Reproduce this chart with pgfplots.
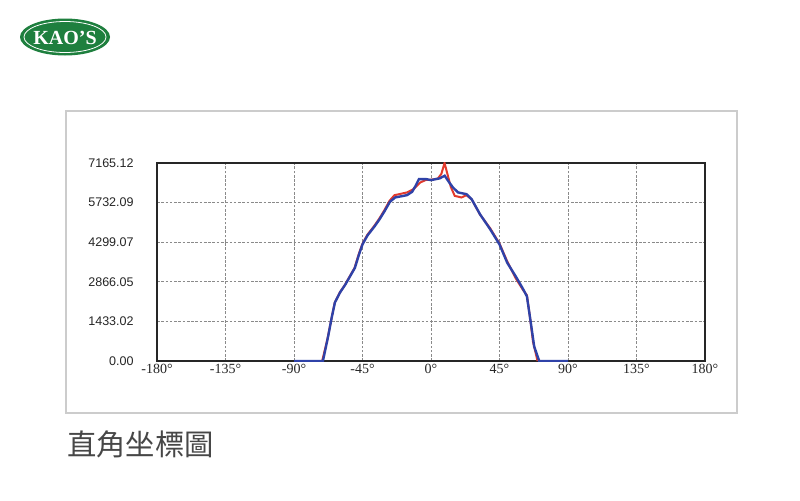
\documentclass[border=0pt]{standalone}
\usepackage{pgfplots}
\pgfplotsset{compat=1.18}
\usepackage{fontspec}
\setmainfont{Liberation Serif}
\newfontfamily\tickfont{Liberation Sans}
\newfontfamily\cjk{Noto Sans CJK TC}
\definecolor{kaogreen}{HTML}{1E7F3E}
\definecolor{curvered}{HTML}{E23A2C}
\definecolor{curveblue}{HTML}{2F42A8}
\definecolor{framegray}{HTML}{CCCCCC}
\definecolor{gridgray}{HTML}{8A8A8A}

\begin{document}
\begin{tikzpicture}
% page frame, logo, caption (1px = 0.75pt, y down)
\begin{scope}[x=0.75pt,y=-0.75pt]
  \path[use as bounding box, fill=white] (0,0) rectangle (800,500);
  \draw[framegray, line width=0.9pt] (66,111) rectangle (737,413);
  \fill[kaogreen] (65,37) ellipse [x radius=45, y radius=18.5];
  \draw[white, line width=0.6pt] (65,37) ellipse [x radius=41, y radius=15.5];
  \node[white, font=\bfseries\fontsize{15}{15}\selectfont, inner sep=0pt] at (65,38) {KAO'S};
  \node[anchor=west, inner sep=0pt, text=black!72, font=\cjk\fontsize{22}{22}\selectfont] at (67,444) {直角坐標圖};
\end{scope}

\begin{axis}[
    at={(117.75pt,-270.75pt)}, anchor=south west,
    scale only axis,
    width=411pt, height=148.5pt,
    xmin=-180, xmax=180,
    ymin=0, ymax=7165.12,
    axis line style={line width=1.6pt, black!85},
    xtick={-180,-135,-90,-45,0,45,90,135,180},
    xticklabels={-180°,-135°,-90°,-45°,0°,45°,90°,135°,180°},
    ytick={0,1433.02,2866.05,4299.07,5732.09,7165.12},
    yticklabels={0.00,1433.02,2866.05,4299.07,5732.09,7165.12},
    major tick length=0pt,
    grid=major,
    major grid style={gridgray, line width=0.6pt, dash pattern=on 2pt off 1.2pt},
    xticklabel style={font=\fontsize{10.5}{10.5}\selectfont, text=black!85, yshift=1pt},
    yticklabel style={font=\tickfont\fontsize{9.4}{9.4}\selectfont, text=black!85, xshift=-14pt},
]

% red curve
\addplot[curvered, line width=1.5pt] coordinates {
    (-71.5,0) (-68,800) (-65.5,1500) (-63.3,2100) (-59.9,2480) (-56.5,2760)
    (-53.1,3090) (-50.2,3370) (-47.5,3860) (-45.2,4220) (-41.9,4560)
    (-37.4,4880) (-34,5150) (-30.6,5460) (-27.2,5800) (-24,6000)
    (-15.8,6100) (-11.5,6220) (-7,6462) (-3.4,6550) (0,6560) (4.5,6600)
    (6.8,6770) (8.9,7165) (11.1,6700) (13,6300) (15.6,5976) (20,5917)
    (23.3,6000) (26.7,5850) (32.2,5300) (38.9,4800) (45,4250) (50.1,3600)
    (55.6,3000) (60.1,2600) (63,2380) (65,1600) (67,700) (70,0)
};

% blue curve
\addplot[curveblue, line width=1.8pt] coordinates {
    (-90,0) (-71,0) (-67.6,885) (-65.3,1552) (-63.1,2122) (-59.7,2485)
    (-56.3,2764) (-52.9,3092) (-50,3370) (-47.3,3855) (-45,4219)
    (-41.7,4546) (-37.2,4862) (-33.8,5128) (-30.4,5431) (-27,5759)
    (-23.6,5917) (-15.8,6001) (-12.4,6122) (-10.1,6341) (-7.9,6583)
    (-3.4,6583) (0,6547) (5.6,6607) (9,6704) (11.5,6500) (14.4,6280)
    (17.8,6100) (23.3,6037) (26.7,5855) (32.2,5310) (38.9,4765) (45,4219)
    (50.1,3553) (55.6,3068) (60.1,2643) (63,2340) (65.6,1370) (67.8,521)
    (71.1,0) (90,0)
};
\end{axis}
\end{tikzpicture}
\end{document}
